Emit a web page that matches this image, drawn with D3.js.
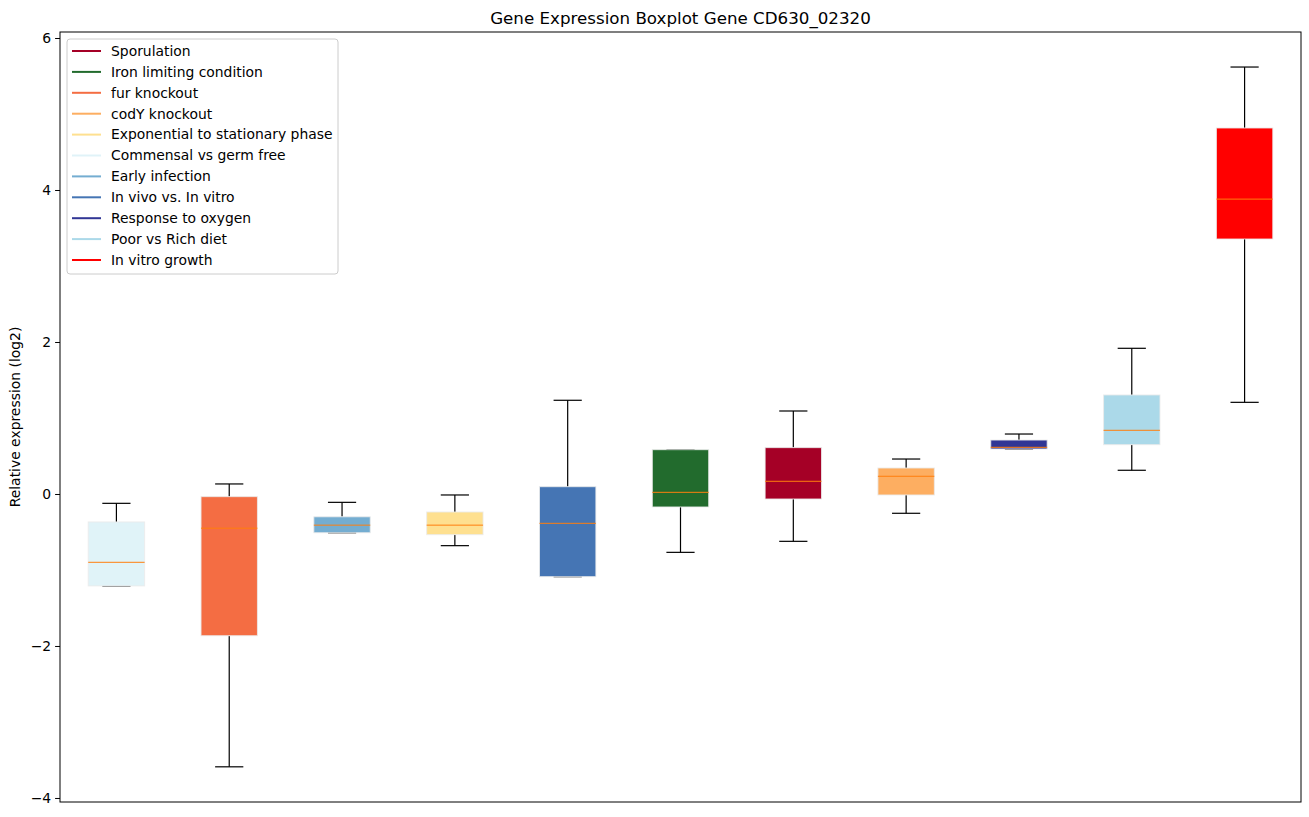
<!DOCTYPE html>
<html>
<head>
<meta charset="utf-8">
<script src="https://cdn.jsdelivr.net/npm/d3@7"></script>
<style>
  body { margin: 0; background: #fff; }
  svg text { font-family: "DejaVu Sans", sans-serif; fill: #000; }
</style>
</head>
<body>
<div id="chart"></div>
<script>
// box order along the x axis
const boxNames = ["Commensal vs germ free", "fur knockout", "Early infection",
  "Exponential to stationary phase", "In vivo vs. In vitro", "Iron limiting condition",
  "Sporulation", "codY knockout", "Response to oxygen", "Poor vs Rich diet", "In vitro growth"];
const boxColors = ["#e0f3f8", "#f46d43", "#74add1", "#fee090", "#4575b4", "#226b2d",
  "#a50026", "#fdae61", "#313695", "#abd9e9", "#ff0000"];
// whisker low, q1, median, q3, whisker high
const whiskLow = [-1.21, -3.59, -0.51, -0.68, -1.088, -0.768, -0.623, -0.254, 0.592, 0.312, 1.206];
const q1 =       [-1.21, -1.865, -0.51, -0.535, -1.088, -0.171, -0.066, -0.013, 0.592, 0.649, 3.355];
const medians =  [-0.899, -0.45, -0.41, -0.41, -0.386, 0.022, 0.167, 0.233, 0.614, 0.838, 3.88];
const q3 =       [-0.368, -0.035, -0.30, -0.237, 0.096, 0.583, 0.61, 0.342, 0.71, 1.303, 4.816];
const whiskHigh = [-0.123, 0.132, -0.11, -0.013, 1.233, 0.583, 1.092, 0.46, 0.789, 1.917, 5.618];

// legend order
const legendNames = ["Sporulation", "Iron limiting condition", "fur knockout", "codY knockout",
  "Exponential to stationary phase", "Commensal vs germ free", "Early infection",
  "In vivo vs. In vitro", "Response to oxygen", "Poor vs Rich diet", "In vitro growth"];

const yTicks = [-4, -2, 0, 2, 4, 6];

const W = 1309, H = 817;
const margin = {left: 60, right: 8, top: 32, bottom: 15};

const svg = d3.select("#chart").append("svg")
  .attr("width", W).attr("height", H);

const x = d3.scaleLinear()
  .domain([0.5, 11.5])
  .range([margin.left, W - margin.right]);

const y = d3.scaleLinear()
  .domain([-4.053, 6.079])
  .range([H - margin.bottom, margin.top]);

const boxes = boxNames.map((name, i) => ({
  name: name, pos: i + 1, color: boxColors[i],
  lo: whiskLow[i], q1: q1[i], med: medians[i], q3: q3[i], hi: whiskHigh[i]
}));

const halfBox = x(1.25) - x(1);
const halfCap = x(1.125) - x(1);

const g = svg.append("g");

// whiskers
g.selectAll("line.whisk-lo").data(boxes).enter().append("line")
  .attr("x1", d => x(d.pos)).attr("x2", d => x(d.pos))
  .attr("y1", d => y(d.q1)).attr("y2", d => y(d.lo))
  .attr("stroke", "#000").attr("stroke-width", 1.2);
g.selectAll("line.whisk-hi").data(boxes).enter().append("line")
  .attr("x1", d => x(d.pos)).attr("x2", d => x(d.pos))
  .attr("y1", d => y(d.q3)).attr("y2", d => y(d.hi))
  .attr("stroke", "#000").attr("stroke-width", 1.2);

// caps
["lo", "hi"].forEach(k => {
  g.selectAll("line.cap-" + k).data(boxes).enter().append("line")
    .attr("x1", d => x(d.pos) - halfCap).attr("x2", d => x(d.pos) + halfCap)
    .attr("y1", d => y(d[k])).attr("y2", d => y(d[k]))
    .attr("stroke", "#000").attr("stroke-width", 1.2);
});

// boxes
g.selectAll("rect.box").data(boxes).enter().append("rect")
  .attr("x", d => x(d.pos) - halfBox)
  .attr("width", 2 * halfBox)
  .attr("y", d => y(d.q3))
  .attr("height", d => Math.max(y(d.q1) - y(d.q3), 0.5))
  .attr("fill", d => d.color)
  .attr("stroke", "rgba(235,235,235,0.85)")
  .attr("stroke-width", 1);

// medians
g.selectAll("line.median").data(boxes).enter().append("line")
  .attr("x1", d => x(d.pos) - halfBox).attr("x2", d => x(d.pos) + halfBox)
  .attr("y1", d => y(d.med)).attr("y2", d => y(d.med))
  .attr("stroke", "#ff7f0e").attr("stroke-width", 1);

// y axis
const yAxis = svg.append("g")
  .attr("transform", `translate(${margin.left},0)`)
  .call(d3.axisLeft(y).tickValues(yTicks).tickSize(4.9).tickPadding(4)
    .tickFormat(d => d < 0 ? "\u2212" + Math.abs(d) : d));
yAxis.select(".domain").remove();
yAxis.selectAll("text").attr("font-size", "13.9px").attr("font-family", "DejaVu Sans, sans-serif");
yAxis.selectAll("line").attr("stroke", "#000").attr("stroke-width", 1);

// frame
svg.append("rect")
  .attr("x", margin.left).attr("y", margin.top)
  .attr("width", W - margin.right - margin.left)
  .attr("height", H - margin.bottom - margin.top)
  .attr("fill", "none").attr("stroke", "#000").attr("stroke-width", 1);

// y label
svg.append("text")
  .attr("transform", `translate(20,${(margin.top + H - margin.bottom) / 2}) rotate(-90)`)
  .attr("text-anchor", "middle")
  .attr("font-size", "13.9px")
  .text("Relative expression (log2)");

// title
svg.append("text")
  .attr("x", (margin.left + W - margin.right) / 2)
  .attr("y", 24)
  .attr("text-anchor", "middle")
  .attr("font-size", "16.7px")
  .text("Gene Expression Boxplot Gene CD630_02320");

// legend
const legend = svg.append("g").attr("transform", "translate(67,39)");
legend.append("rect")
  .attr("width", 271).attr("height", 235).attr("rx", 3)
  .attr("fill", "rgba(255,255,255,0.8)")
  .attr("stroke", "#ccc").attr("stroke-width", 1);

const colorOf = d3.scaleOrdinal().domain(boxNames).range(boxColors);
const rowY = d3.scalePoint().domain(legendNames).range([12, 221]);

const rows = legend.selectAll("g.row").data(legendNames).enter().append("g")
  .attr("transform", d => `translate(0,${rowY(d)})`);
rows.append("line")
  .attr("x1", 5).attr("x2", 34)
  .attr("stroke", d => colorOf(d)).attr("stroke-width", 2);
rows.append("text")
  .attr("x", 44).attr("dy", "0.35em")
  .attr("font-size", "13.9px")
  .text(d => d);
</script>
</body>
</html>
